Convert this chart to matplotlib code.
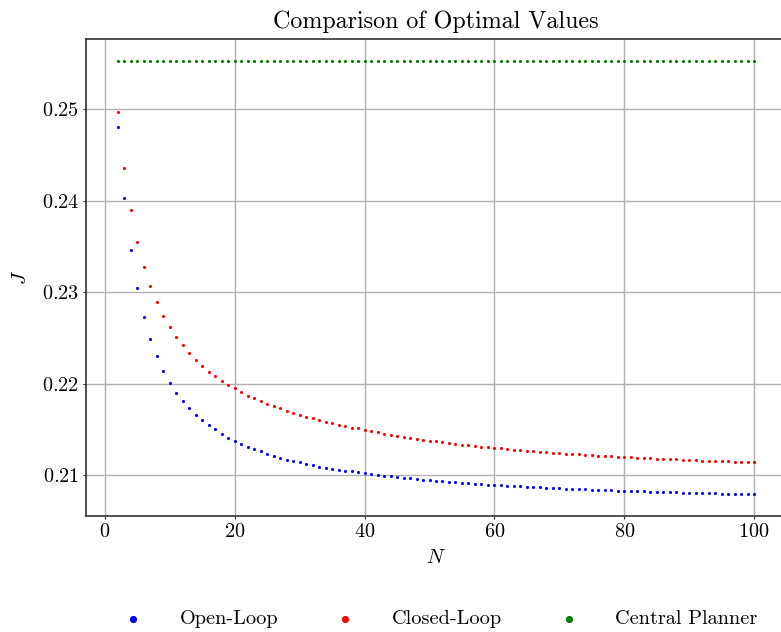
import numpy as np
import matplotlib
matplotlib.use('Agg')
import matplotlib.pyplot as plt

plt.rcParams['font.family'] = 'cmr10'
plt.rcParams['mathtext.fontset'] = 'cm'
plt.rcParams['axes.formatter.use_mathtext'] = True
plt.rcParams['font.size'] = 14.6

# horizon lengths
N = np.arange(2, 101)

# optimal cost, open-loop equilibrium (N = 2..100)
J_open = [
    0.2481, 0.2403, 0.2346, 0.2305, 0.2273, 0.2249, 0.2230, 0.2214, 0.2201, 0.2190,
    0.2181, 0.2173, 0.2166, 0.2160, 0.2155, 0.2150, 0.2145, 0.2141, 0.2137, 0.2134,
    0.2131, 0.2128, 0.2126, 0.2123, 0.2121, 0.2119, 0.2117, 0.2115, 0.2114, 0.2112,
    0.2111, 0.2109, 0.2108, 0.2107, 0.2106, 0.2105, 0.2104, 0.2103, 0.2102, 0.2101,
    0.2100, 0.20994, 0.20985, 0.20978, 0.20970, 0.20963, 0.20956, 0.20950, 0.20944, 0.20938,
    0.20932, 0.20926, 0.20921, 0.20916, 0.20911, 0.20906, 0.20901, 0.20897, 0.20893, 0.20888,
    0.20884, 0.20880, 0.20877, 0.20873, 0.20869, 0.20866, 0.20862, 0.20859, 0.20856, 0.20853,
    0.20850, 0.20847, 0.20844, 0.20841, 0.20839, 0.20836, 0.20834, 0.20831, 0.20829, 0.20826,
    0.20824, 0.20822, 0.20820, 0.20817, 0.20815, 0.20813, 0.20811, 0.20809, 0.20807, 0.20806,
    0.20804, 0.20802, 0.20800, 0.20798, 0.20797, 0.20795, 0.20793, 0.20792, 0.20790,
]

# optimal cost, closed-loop equilibrium (N = 2..100)
J_closed = [
    0.2497, 0.2436, 0.2390, 0.2355, 0.2328, 0.2307, 0.2289, 0.2274, 0.2262, 0.2251,
    0.2242, 0.2233, 0.2226, 0.2219, 0.2213, 0.2208, 0.2203, 0.2199, 0.2195, 0.2191,
    0.2187, 0.2184, 0.2181, 0.2178, 0.2175, 0.2173, 0.2170, 0.2168, 0.2166, 0.2164,
    0.2162, 0.2160, 0.2158, 0.2157, 0.2155, 0.2154, 0.2152, 0.2151, 0.21495, 0.2148,
    0.21467, 0.21454, 0.21442, 0.21430, 0.21418, 0.21407, 0.21397, 0.21387, 0.21377, 0.21368,
    0.21359, 0.21350, 0.21342, 0.21334, 0.21326, 0.21318, 0.21311, 0.21304, 0.21297, 0.21291,
    0.21285, 0.21279, 0.21273, 0.21267, 0.21261, 0.21256, 0.21251, 0.21246, 0.21241, 0.21236,
    0.21231, 0.21227, 0.21222, 0.21218, 0.21214, 0.21210, 0.21206, 0.21202, 0.21198, 0.21195,
    0.21191, 0.21187, 0.21184, 0.21181, 0.21177, 0.21174, 0.21171, 0.21168, 0.21165, 0.21162,
    0.21159, 0.21157, 0.21154, 0.21151, 0.21149, 0.21146, 0.21143, 0.21141, 0.21139,
]

# central planner optimum (same for every N)
J_central = 0.2553

labels = ['Open-Loop', 'Closed-Loop', 'Central Planner']
colors = ['blue', 'red', 'green']

fig = plt.figure(figsize=(7.81, 6.32), dpi=100)
ax = fig.add_axes([86/781, 116/632, 700/781, 477/632])

series = [J_open, J_closed, np.full(len(N), J_central)]
for y, c, lab in zip(series, colors, labels):
    ax.scatter(N, y, s=5, color=c, linewidths=0, label=lab, zorder=3)

ax.set_title('Comparison of Optimal Values', fontsize=17.3, pad=8)
ax.set_xlabel('$N$', labelpad=6)
ax.set_ylabel('$J$', labelpad=8)

ax.grid(True, color='#b0b0b0', linewidth=1.0)
ax.set_axisbelow(True)
for sp in ax.spines.values():
    sp.set_color('#333333')
    sp.set_linewidth(1.2)
ax.tick_params(length=2, width=0.8, pad=3, color='#333333')

fig.legend(loc='center', bbox_to_anchor=(0.557, 1 - 619/632), ncol=3,
           frameon=False, markerscale=2.3, handletextpad=1.3, columnspacing=2.3)

fig.savefig('out.png', dpi=100)
